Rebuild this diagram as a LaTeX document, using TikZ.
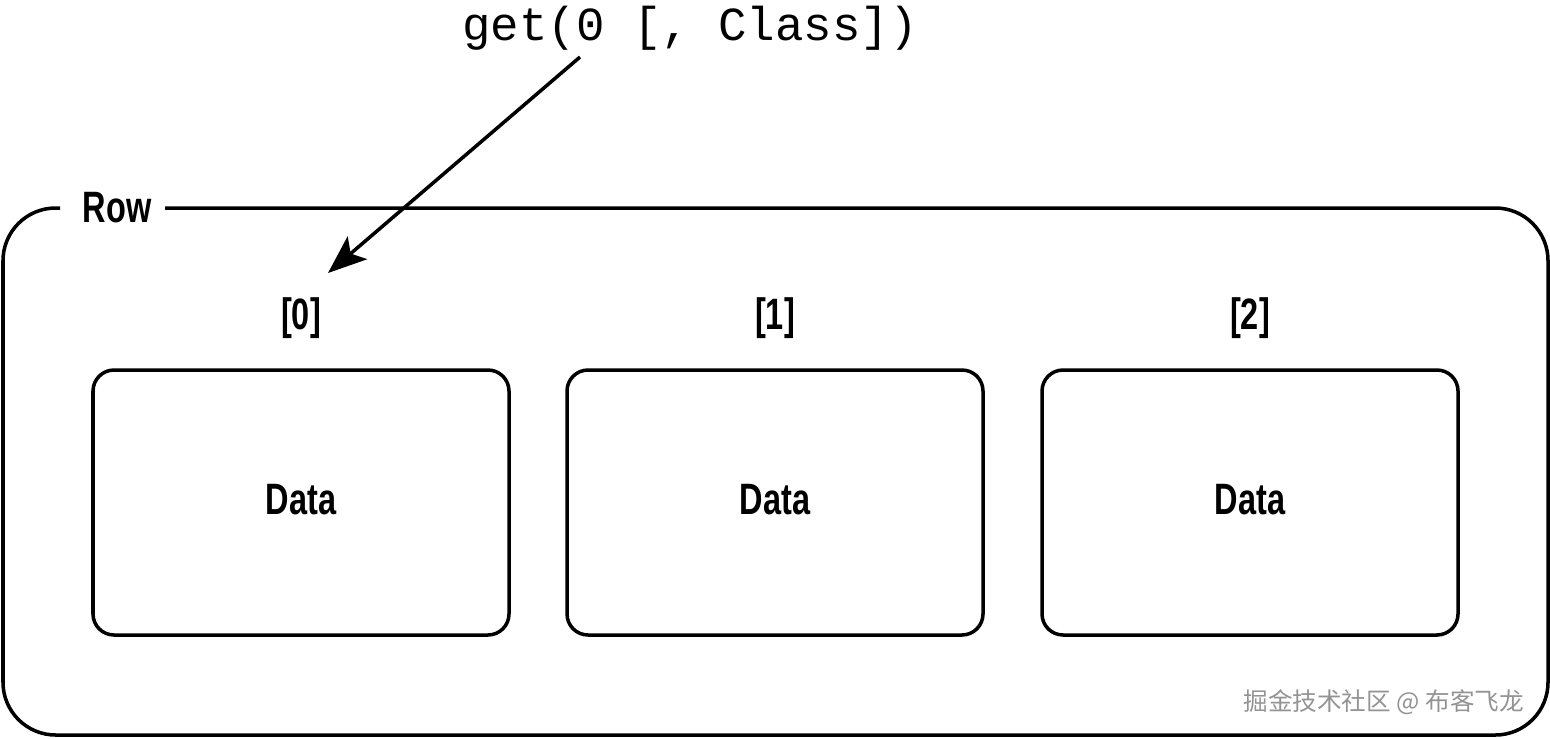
\documentclass[tikz,border=0pt]{standalone}
\usepackage{fontspec}
\setmainfont{Liberation Sans}
\setmonofont{Liberation Mono}
\newfontfamily\cjk{Noto Sans CJK SC}
\newfontfamily\cond[FakeStretch=0.74]{Liberation Sans Bold}
\usetikzlibrary{arrows.meta}
\begin{document}
\begin{tikzpicture}[x=0.02cm,y=-0.02cm,
  box/.style={draw,line width=2pt,rounded corners=12pt},
  lbl/.style={font=\cond\fontsize{25}{28}\selectfont,inner sep=0pt}]
\useasboundingbox (0,0) rectangle (1550,738);
\draw[line width=2pt,rounded corners=30pt] (60,208) -- (3,208) -- (3,735) -- (1548,735) -- (1548,208) -- (165,208);
\node[lbl] (row) at (117,208) {Row};
\foreach \i/\x in {0/301,1/775,2/1250}{
  \node[lbl] (idx\i) at (\x,318) {[\i]};
  \draw[box] (\x-208,370) rectangle (\x+208,635);
  \node[lbl] (data\i) at (\x,500) {Data};
}
\node[font=\ttfamily\fontsize{27}{30}\selectfont,inner sep=0pt] (call) at (690,28) {get(0 [, Class])};
\coordinate (s) at (580,57);
\coordinate (e) at (328,273);
\draw[line width=2pt,-{Stealth[length=22pt,width=17pt,inset=5pt]}] (s) -- (e);
\node[font=\cjk\fontsize{14}{16}\selectfont,text=gray!85,anchor=east] (wm) at (1530,702) {掘金技术社区 @ 布客飞龙};
\end{tikzpicture}
\end{document}
